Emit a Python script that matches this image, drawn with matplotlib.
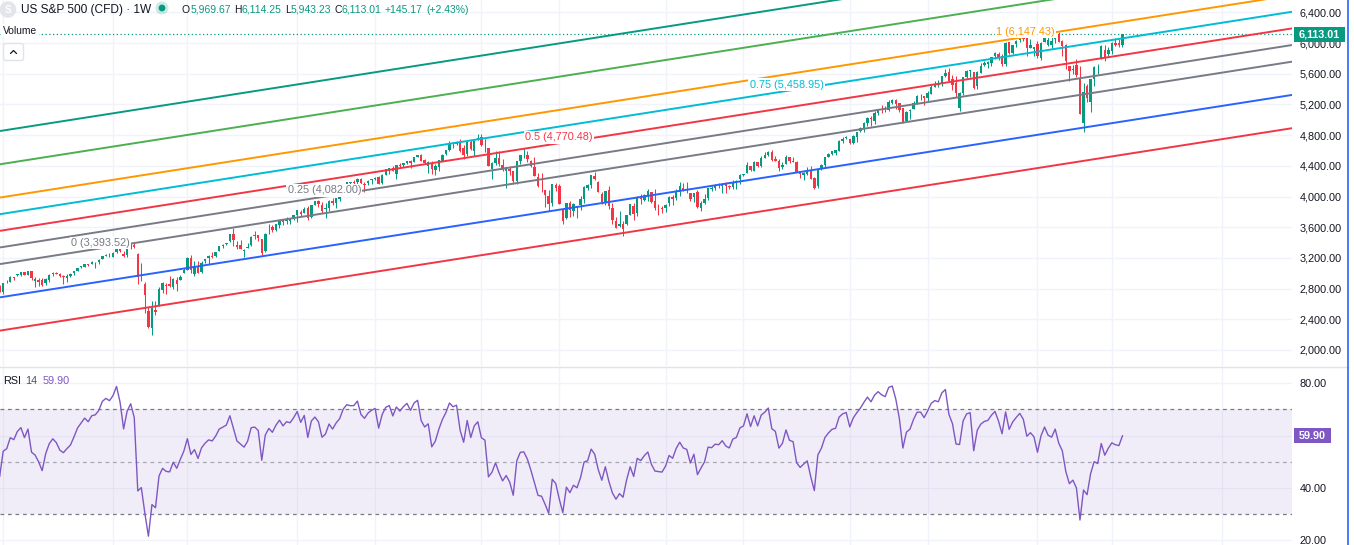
import numpy as np
import pandas as pd
import matplotlib
matplotlib.use("Agg")
import matplotlib.pyplot as plt
import matplotlib.dates as mdates
from matplotlib.patches import Rectangle, Circle, FancyBboxPatch
from matplotlib.ticker import FuncFormatter

plt.rcParams['font.family'] = ['Liberation Sans', 'DejaVu Sans']

# ---------------- DATA (weekly candles, week starting Monday) ----------------
first_week = '2018-09-03'

opens = [
    2897, 2872, 2903, 2928, 2923, 2877, 2763, 2773, 2669, 2727, 2773, 2731, 2650, 2791, 2630, 2591, 2401, 2498,
    2536, 2583, 2657, 2644, 2706, 2711, 2779, 2804, 2814, 2747, 2823, 2796, 2848, 2888, 2908, 2898, 2941, 2908, 2840, 2841, 2830, 2752, 2885, 2889, 2951, 2971, 2980, 3014, 2980, 3025, 2898, 2908, 2910, 2867, 2910, 2989, 3001, 2984, 2967, 2944, 2965, 2997, 3032, 3079, 3081, 3118, 3117, 3143, 3141, 3183, 3226, 3240,
    3218, 3271, 3321, 3248, 3236, 3318, 3370, 3257, 2975, 2864, 2509, 2291, 2527, 2579, 2782, 2845, 2854, 2815, 2915, 2913, 3005, 3038, 3199, 2993, 3094, 3018, 3155, 3205, 3224, 3219, 3289, 3356, 3380, 3418, 3509, 3370, 3363, 3285, 3334, 3367, 3500, 3493, 3441, 3296, 3584, 3601, 3566, 3634, 3694, 3675, 3684, 3723,
    3764, 3803, 3781, 3851, 3732, 3892, 3939, 3886, 3842, 3844, 3943, 3916, 3969, 4034, 4130, 4179, 4185, 4192, 4228, 4169, 4170, 4216, 4230, 4249, 4174, 4285, 4356, 4373, 4297, 4410, 4406, 4437, 4462, 4450, 4514, 4535, 4474, 4402, 4442, 4348, 4385, 4463, 4553, 4610, 4701, 4689, 4712, 4628, 4548, 4710, 4588, 4733,
    4778, 4656, 4632, 4357, 4431, 4505, 4412, 4332, 4355, 4328, 4202, 4462, 4541, 4547, 4462, 4385, 4255, 4130, 4081, 4013, 3920, 4152, 4135, 3838, 3715, 3920, 3815, 3880, 3883, 3965, 4113, 4155, 4269, 4195, 4034, 3910, 4084, 3849, 3682, 3610, 3640, 3638, 3764, 3881, 3780, 3977, 3956, 4005, 4053, 3940, 3853, 3843,
    3853, 3911, 3996, 3979, 4058, 4106, 4097, 4046, 3992, 4055, 3856, 3917, 3982, 4102, 4110, 4140, 4134, 4166, 4136, 4126, 4191, 4226, 4283, 4308, 4397, 4337, 4451, 4394, 4505, 4543, 4585, 4492, 4464, 4381, 4426, 4511, 4459, 4445, 4310, 4284, 4289, 4343, 4239, 4139, 4365, 4406, 4512, 4555, 4564, 4593, 4725, 4759,
    4745, 4703, 4772, 4853, 4892, 4957, 5027, 4989, 5094, 5130, 5112, 5123, 5220, 5257, 5218, 5149, 4988, 5114, 5142, 5221, 5305, 5315, 5283, 5341, 5432, 5459, 5472, 5573, 5620, 5529, 5476, 5151, 5345, 5557, 5637, 5623, 5442, 5615, 5712, 5727, 5737, 5833, 5858, 5833, 5724, 6008, 5874, 5992, 6040, 6083, 6064, 5941, 5920,
    5983, 5804, 6014, 5970, 5970, 6046, 6117, 6026, 5969, 5705, 5654, 5718, 5527, 4954, 5441, 5232, 5529, 5656, 5807, 5903, 5855, 5897, 6005, 6005, 5969.67,
]
highs = [
    2900, 2906, 2941, 2940, 2940, 2894, 2815, 2778, 2766, 2815, 2775, 2731, 2760, 2815, 2686, 2601, 2510, 2539,
    2598, 2675, 2673, 2709, 2738, 2776, 2794, 2813, 2816, 2830, 2861, 2836, 2893, 2910, 2917, 2940, 2954, 2932, 2892, 2892, 2841, 2876, 2911, 2964, 2956, 2996, 3018, 3018, 3028, 3029, 2945, 2944, 2940, 2940, 2985, 3021, 3022, 3002, 2983, 2993, 3000, 3027, 3067, 3098, 3121, 3127, 3154, 3146, 3183, 3226, 3248, 3259,
    3283, 3330, 3338, 3285, 3342, 3385, 3393.52, 3260, 3137, 2883, 2562, 2637, 2641, 2819, 2880, 2868, 2965, 2933, 2945, 2981, 3069, 3211, 3233, 3155, 3155, 3166, 3186, 3236, 3280, 3272, 3352, 3387, 3399, 3509, 3588, 3425, 3429, 3320, 3397, 3482, 3550, 3502, 3441, 3529, 3646, 3629, 3646, 3699, 3712, 3727, 3711, 3760,
    3827, 3823, 3860, 3870, 3889, 3937, 3950, 3928, 3914, 3960, 3984, 3978, 4021, 4130, 4192, 4194, 4219, 4238, 4236, 4188, 4220, 4234, 4255, 4262, 4287, 4356, 4372, 4393, 4415, 4430, 4441, 4469, 4481, 4513, 4546, 4549, 4493, 4465, 4466, 4429, 4475, 4560, 4608, 4718, 4714, 4718, 4744, 4672, 4713, 4731, 4740, 4808,
    4818, 4749, 4632, 4453, 4595, 4590, 4490, 4385, 4402, 4331, 4465, 4546, 4637, 4594, 4471, 4513, 4308, 4308, 4082, 4090, 4158, 4170, 4169, 3838, 3913, 3946, 3918, 3880, 4012, 4140, 4167, 4280, 4325, 4204, 4062, 4076, 4140, 3914, 3736, 3806, 3685, 3762, 3906, 3911, 4001, 4028, 4034, 4101, 4053, 4101, 3902, 3878,
    3906, 4004, 4015, 4094, 4195, 4176, 4195, 4051, 4049, 4079, 3938, 4039, 4110, 4133, 4164, 4170, 4170, 4186, 4154, 4213, 4213, 4290, 4299, 4449, 4401, 4458, 4456, 4528, 4578, 4594, 4608, 4528, 4490, 4448, 4541, 4515, 4512, 4466, 4338, 4320, 4385, 4394, 4255, 4366, 4421, 4520, 4567, 4597, 4610, 4739, 4779, 4794,
    4755, 4799, 4842, 4906, 4976, 5030, 5048, 5111, 5141, 5190, 5179, 5262, 5264, 5264, 5222, 5150, 5114, 5139, 5239, 5325, 5342, 5315, 5376, 5447, 5505, 5524, 5570, 5655, 5669, 5586, 5566, 5358, 5563, 5643, 5651, 5623, 5636, 5733, 5767, 5767, 5823, 5879, 5878, 5863, 6012, 6018, 5973, 6045, 6099, 6089, 6086, 6050, 5949,
    6021, 6014, 6128, 6120, 6101, 6127, 6147.43, 6044, 5987, 5705, 5716, 5787, 5696, 5482, 5460, 5528, 5700, 5721, 5969, 5968, 5944, 6017, 6059, 6051, 6114.25,
]
lows = [
    2864, 2867, 2886, 2903, 2874, 2711, 2738, 2628, 2603, 2723, 2671, 2631, 2636, 2621, 2583, 2409, 2347, 2444,
    2525, 2570, 2612, 2631, 2684, 2705, 2764, 2775, 2722, 2733, 2800, 2785, 2848, 2874, 2892, 2898, 2900, 2825, 2801, 2805, 2750, 2728, 2874, 2880, 2912, 2967, 2966, 2975, 2976, 2914, 2822, 2840, 2835, 2852, 2891, 2964, 2990, 2946, 2856, 2892, 2953, 2977, 3023, 3069, 3079, 3091, 3115, 3070, 3124, 3181, 3221, 3212,
    3214, 3263, 3280, 3214, 3214, 3315, 3328, 2855, 2901, 2479, 2281, 2192, 2459, 2579, 2739, 2727, 2815, 2797, 2767, 2913, 2999, 3038, 2999, 2966, 3004, 3000, 3128, 3127, 3201, 3209, 3284, 3329, 3367, 3410, 3349, 3310, 3313, 3209, 3323, 3355, 3441, 3415, 3234, 3280, 3511, 3543, 3556, 3595, 3633, 3648, 3636, 3700,
    3663, 3750, 3780, 3694, 3726, 3885, 3866, 3789, 3723, 3805, 3895, 3853, 3939, 4034, 4123, 4118, 4166, 4126, 4056, 4061, 4155, 4168, 4212, 4165, 4165, 4279, 4290, 4326, 4234, 4372, 4385, 4423, 4367, 4447, 4514, 4457, 4427, 4306, 4288, 4279, 4329, 4460, 4537, 4595, 4630, 4672, 4585, 4495, 4532, 4600, 4531, 4733,
    4662, 4582, 4395, 4223, 4414, 4401, 4335, 4115, 4279, 4157, 4162, 4424, 4506, 4450, 4381, 4268, 4129, 4063, 3859, 3810, 3876, 4073, 3900, 3636, 3705, 3738, 3742, 3721, 3818, 3911, 4080, 4112, 4218, 4057, 3906, 3886, 3838, 3648, 3584, 3604, 3491, 3632, 3764, 3698, 3750, 3906, 3943, 3939, 3918, 3828, 3765, 3784,
    3795, 3877, 3886, 3950, 4012, 4073, 4048, 3944, 3928, 3847, 3809, 3908, 3951, 4069, 4085, 4114, 4049, 4048, 4098, 4099, 4103, 4167, 4261, 4304, 4328, 4328, 4385, 4389, 4503, 4527, 4464, 4457, 4335, 4356, 4426, 4431, 4448, 4313, 4238, 4216, 4284, 4224, 4104, 4113, 4341, 4389, 4511, 4537, 4547, 4592, 4695, 4751,
    4682, 4683, 4715, 4842, 4845, 4918, 4920, 4947, 5057, 5094, 5104, 5117, 5204, 5146, 5107, 4954, 4988, 5012, 5142, 5211, 5257, 5191, 5235, 5331, 5428, 5433, 5445, 5554, 5497, 5391, 5302, 5120, 5322, 5540, 5561, 5402, 5406, 5604, 5703, 5674, 5695, 5790, 5784, 5706, 5697, 5853, 5853, 5952, 6017, 6030, 5832, 5932, 5829,
    5810, 5774, 6014, 5962, 5924, 6004, 6009, 5837, 5667, 5505, 5598, 5558, 5069, 4835, 5229, 5102, 5434, 5598, 5786, 5767, 5824, 5861, 5963, 5952, 5943.23,
]
closes = [
    2872, 2905, 2930, 2914, 2886, 2767, 2768, 2659, 2723, 2781, 2736, 2633, 2760, 2633, 2600, 2417, 2486, 2532,
    2596, 2671, 2665, 2707, 2708, 2776, 2793, 2804, 2743, 2822, 2801, 2834, 2893, 2907, 2905, 2940, 2946, 2881, 2860, 2826, 2752, 2873, 2887, 2950, 2942, 2990, 3014, 2977, 3026, 2932, 2919, 2889, 2847, 2926, 2979, 3007, 2992, 2962, 2952, 2970, 2986, 3023, 3067, 3093, 3120, 3110, 3141, 3146, 3169, 3221, 3240, 3235,
    3265, 3330, 3295, 3226, 3328, 3380, 3338, 2954, 2972, 2711, 2305, 2541, 2489, 2790, 2875, 2837, 2831, 2930, 2864, 2955, 3044, 3194, 3041, 3098, 3009, 3130, 3185, 3225, 3216, 3271, 3351, 3373, 3397, 3508, 3427, 3341, 3319, 3298, 3348, 3477, 3484, 3465, 3270, 3509, 3585, 3558, 3638, 3699, 3663, 3709, 3703, 3756,
    3825, 3768, 3841, 3714, 3887, 3935, 3907, 3811, 3842, 3943, 3913, 3975, 4020, 4129, 4185, 4180, 4181, 4233, 4174, 4156, 4204, 4230, 4247, 4166, 4281, 4352, 4370, 4327, 4412, 4395, 4437, 4468, 4442, 4509, 4535, 4459, 4433, 4455, 4357, 4391, 4471, 4545, 4605, 4698, 4683, 4698, 4595, 4538, 4712, 4621, 4726, 4766,
    4677, 4663, 4398, 4432, 4501, 4419, 4349, 4385, 4329, 4204, 4463, 4543, 4546, 4488, 4393, 4272, 4132, 4123, 4024, 3901, 4158, 4109, 3901, 3675, 3912, 3825, 3899, 3863, 3962, 4130, 4145, 4280, 4228, 4058, 3924, 4067, 3873, 3693, 3586, 3640, 3583, 3753, 3901, 3771, 3993, 3965, 4026, 4072, 3934, 3852, 3845, 3840,
    3895, 3999, 3973, 4071, 4136, 4090, 4079, 3970, 4046, 3862, 3917, 3971, 4109, 4105, 4138, 4134, 4169, 4136, 4124, 4192, 4205, 4282, 4299, 4410, 4348, 4450, 4399, 4505, 4536, 4582, 4478, 4464, 4370, 4406, 4516, 4457, 4450, 4320, 4288, 4309, 4328, 4224, 4117, 4358, 4415, 4514, 4559, 4595, 4604, 4719, 4755, 4770,
    4697, 4784, 4840, 4891, 4959, 5027, 5006, 5089, 5137, 5124, 5117, 5234, 5254, 5204, 5123, 4967, 5100, 5128, 5223, 5303, 5305, 5278, 5347, 5432, 5465, 5460, 5567, 5615, 5505, 5459, 5347, 5344, 5554, 5635, 5648, 5408, 5626, 5703, 5738, 5751, 5815, 5865, 5808, 5729, 5996, 5871, 5969, 6032, 6090, 6051, 5931, 5971, 5942.47,
    5827.04, 5996.66, 6101.24, 6040.53, 6025.99, 6114.63, 6013.13, 5954.50, 5770.20, 5638.94, 5667.56, 5580.94, 5074.08, 5363.36, 5282.70, 5525.21, 5686.67, 5659.91, 5958.38, 5802.82, 5911.69, 6000.36, 5976.97, 5967.84, 6113.01,
]

symbol_title = "US S&P 500 (CFD) · 1W"
price_ticks = [2000, 2400, 2800, 3200, 3600, 4000, 4400, 4800, 5200, 5600, 6000, 6400]
rsi_ticks = [20, 40, 60, 80]
rsi_period = 14
rsi_bands = [30, 50, 70]
grid_dates = ['2019-06-03', '2020-01-06', '2020-06-01', '2021-01-04', '2021-06-07', '2022-01-03',
              '2022-06-06', '2023-01-02', '2023-06-05', '2024-01-01', '2024-06-03', '2025-01-06',
              '2025-06-02', '2026-01-05']

# Fibonacci channel: baseline start, channel-width point, baseline slope
fib_start = ('2020-02-17', 3393.52)
fib_width_point = ('2025-02-17', 6147.43)
fib_slope_per_week = 7.23
fib_levels = [-1, -0.5, 0, 0.25, 0.5, 0.75, 1, 1.5, 2]
fib_colors = ['#F23645', '#2962FF', '#787B86', '#787B86', '#F23645', '#00BCD4', '#FF9800', '#4CAF50', '#089981']

# visible window
view_dates = ('2019-05-27 17:00', '2026-05-24 00:00')
price_view = (1791.5, 6560.3)
rsi_view = (18.09, 86.24)

# ---------------- STYLE ----------------
UP = '#089981'
DOWN = '#F23645'
TXT = '#131722'
GRID = '#F0F3FA'
RSI_C = '#7E57C2'
W, H = 1354, 545
PLOT_R = 1292

opens, highs, lows, closes = map(lambda a: np.array(a, float), (opens, highs, lows, closes))
assert len(opens) == len(highs) == len(lows) == len(closes)
dates = pd.date_range(first_week, periods=len(closes), freq='W-MON')
xd = mdates.date2num(dates.to_pydatetime())


def rsi_wilder(c, n):
    d = np.diff(c)
    up = np.clip(d, 0, None)
    dn = np.clip(-d, 0, None)
    out = np.full(len(c), np.nan)
    au, ad = up[:n].mean(), dn[:n].mean()
    out[n] = 100 - 100 / (1 + au / ad)
    for i in range(n + 1, len(c)):
        au = (au * (n - 1) + up[i - 1]) / n
        ad = (ad * (n - 1) + dn[i - 1]) / n
        out[i] = 100.0 if ad == 0 else 100 - 100 / (1 + au / ad)
    return out


rsi = rsi_wilder(closes, rsi_period)

fig = plt.figure(figsize=(W / 100, H / 100), dpi=100)
fig.patch.set_facecolor('white')


def frect(x0, y0, x1, y1):
    return [x0 / W, 1 - y1 / H, (x1 - x0) / W, (y1 - y0) / H]


ax = fig.add_axes(frect(0, 0, PLOT_R, 366))
axr = fig.add_axes(frect(0, 367, PLOT_R, 545))

xlim = (mdates.date2num(pd.Timestamp(view_dates[0])), mdates.date2num(pd.Timestamp(view_dates[1])))
gx = mdates.date2num(pd.to_datetime(grid_dates).to_pydatetime())

for a, yl, yt, fmt in ((ax, price_view, price_ticks, lambda v, p: f"{v:,.2f}"),
                       (axr, rsi_view, rsi_ticks, lambda v, p: f"{v:.2f}")):
    a.set_xlim(*xlim)
    a.set_ylim(*yl)
    a.set_xticks(gx)
    a.set_yticks(yt)
    a.yaxis.tick_right()
    a.yaxis.set_major_formatter(FuncFormatter(fmt))
    a.tick_params(axis='x', length=0, labelbottom=False)
    a.tick_params(axis='y', length=0, pad=5.5, labelsize=7.8, labelcolor=TXT)
    a.grid(True, color=GRID, lw=1.0, zorder=0)
    a.set_axisbelow(True)
    for s in a.spines.values():
        s.set_visible(False)
    a.set_facecolor('white')

# candles
colors = np.where(closes >= opens, UP, DOWN)
ax.vlines(xd, lows, highs, colors=colors, lw=0.75, zorder=2)
body_lo = np.minimum(opens, closes)
body_h = np.maximum(np.abs(closes - opens), 4)
ax.bar(xd, body_h, bottom=body_lo, width=4.8, color=colors, lw=0, zorder=3)

# last price dotted line
ax.axhline(closes[-1], color=UP, ls=(0, (1, 2)), lw=0.9, zorder=1)

# fib channel
a1 = mdates.date2num(pd.Timestamp(fib_start[0]))
a3 = mdates.date2num(pd.Timestamp(fib_width_point[0]))
p1, p3 = fib_start[1], fib_width_point[1]
slope_day = fib_slope_per_week / 7.0
xs = np.array(xlim)
for lvl, col in zip(fib_levels, fib_colors):
    ax_x = a1 + lvl * (a3 - a1)
    ax_p = p1 + lvl * (p3 - p1)
    ax.plot(xs, ax_p + slope_day * (xs - ax_x), color=col, lw=1.4, zorder=4, solid_capstyle='butt')
    ax.annotate(f"{lvl:g} ({ax_p:,.2f})", xy=(ax_x, ax_p), xytext=(-3, 0), textcoords='offset points',
                ha='right', va='center', color=col, fontsize=7.8, zorder=6,
                bbox=dict(boxstyle='square,pad=0.12', fc='white', ec='none'), annotation_clip=True)

# RSI pane
axr.axhspan(rsi_bands[0], rsi_bands[2], color=RSI_C, alpha=0.1, lw=0, zorder=1)
for b, al in zip(rsi_bands, (1.0, 0.6, 1.0)):
    axr.axhline(b, color='#787B86', ls=(0, (3, 3)), lw=0.9, alpha=al, zorder=2)
axr.plot(xd, rsi, color=RSI_C, lw=1.0, zorder=3)

# ---------------- overlay (pixel coordinates) ----------------
ov = fig.add_axes([0, 0, 1, 1], zorder=10)
ov.set_xlim(0, W)
ov.set_ylim(H, 0)
ov.axis('off')
ov.patch.set_alpha(0)


def to_px(a, xv, yv):
    d = a.transData.transform((xv, yv))
    return d[0], H - d[1]


# pane separator and right border
ov.plot([0, 1348], [366.6, 366.6], color='#E0E3EB', lw=1.0)
ov.plot([1348.3, 1348.3], [0, H], color='#2962FF', lw=1.2)

# header
ov.add_patch(Circle((8, 9.5), 8.3, color='#E3E5EA', lw=0))
ov.text(8, 10, "S", color='white', fontsize=7, ha='center', va='center', fontweight='bold')
ov.text(21, 9.6, symbol_title, color=TXT, fontsize=8.6, ha='left', va='center')
ov.add_patch(Circle((162, 8), 6.5, color=UP, alpha=0.2, lw=0))
ov.add_patch(Circle((162, 8), 3.4, color=UP, lw=0))

chg = closes[-1] - closes[-2]
pct = chg / closes[-2] * 100
parts = [("O", TXT, 0), (f"{opens[-1]:,.2f}", UP, 0), ("H", TXT, 2.4), (f"{highs[-1]:,.2f}", UP, 0),
         ("L", TXT, 2.4), (f"{lows[-1]:,.2f}", UP, 0), ("C", TXT, 2.4), (f"{closes[-1]:,.2f}", UP, 0),
         (f"{chg:+,.2f}", UP, 2.4), (f"({pct:+.2f}%)", UP, 2.4)]
prev = ov.text(182, 9.6, parts[0][0], color=parts[0][1], fontsize=7.5, ha='left', va='center')
for s, c, g in parts[1:]:
    prev = ov.annotate(s, xy=(1, 0.5), xycoords=prev, xytext=(g, 0), textcoords='offset points',
                       color=c, fontsize=7.5, ha='left', va='center')

# Volume label + collapse button
ov.text(3, 30.5, "Volume", color=TXT, fontsize=7.4, ha='left', va='center',
        bbox=dict(boxstyle='square,pad=0.15', fc='white', ec='none'))
ov.add_patch(FancyBboxPatch((3.5, 43.5), 20, 17, boxstyle='round,pad=0,rounding_size=2.5',
                            fc='white', ec='#E0E3EB', lw=1.0))
ov.plot([10.5, 13.5, 16.5], [53.5, 50.5, 53.5], color=TXT, lw=0.9, solid_capstyle='round')

# RSI header
prev = ov.text(3, 381, "RSI", color=TXT, fontsize=7.8, ha='left', va='center')
prev = ov.annotate(str(rsi_period), xy=(1, 0.5), xycoords=prev, xytext=(3, 0), textcoords='offset points',
                   color='#50535E', fontsize=7.8, ha='left', va='center')
ov.annotate(f"{rsi[-1]:.2f}", xy=(1, 0.5), xycoords=prev, xytext=(4, 0), textcoords='offset points',
            color=RSI_C, fontsize=7.8, ha='left', va='center')

# price tags on the scales
_, ty = to_px(ax, xd[-1], closes[-1])
ov.add_patch(Rectangle((1293.5, ty - 7.5), 51.5, 15, color=UP, lw=0))
ov.text(1299, ty + 0.3, f"{closes[-1]:,.2f}", color='white', fontsize=7.8, ha='left', va='center', fontweight='bold')
_, ry = to_px(axr, xd[-1], rsi[-1])
ov.add_patch(Rectangle((1293.5, ry - 7.5), 37.5, 15, color=RSI_C, lw=0))
ov.text(1299, ry + 0.3, f"{rsi[-1]:.2f}", color='white', fontsize=7.8, ha='left', va='center', fontweight='bold')

fig.savefig('out.png', dpi=100, facecolor='white')
